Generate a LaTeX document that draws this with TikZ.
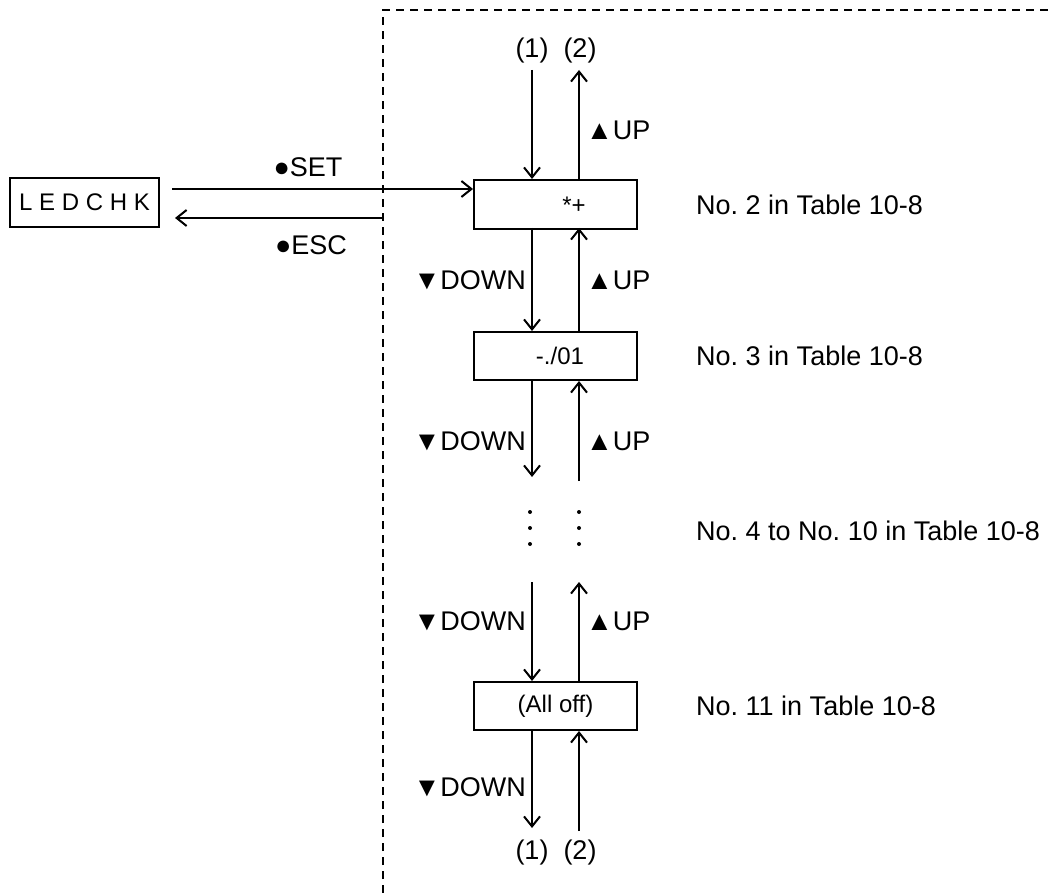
\documentclass[tikz,border=0pt]{standalone}
\usepackage{fontspec}
\setmainfont{Liberation Sans}
\usetikzlibrary{arrows.meta}
\frenchspacing
\tikzset{
  x=1pt, y=-1pt,
  lbl/.style={inner sep=0pt, font=\fontsize{27}{31}\selectfont},
  boxtxt/.style={inner sep=0pt, font=\fontsize{24}{28}\selectfont},
  statebox/.style={draw, line width=2pt, minimum width=163pt, minimum height=49pt, inner sep=0pt, anchor=north west},
  arr/.style={line width=2pt, -{Straight Barb[length=10pt,width=16pt,line width=2pt]}},
  frame/.style={line width=1.6pt, dash pattern=on 8pt off 6pt},
  dotmark/.style={fill, circle, inner sep=0pt, minimum size=4pt}
}
\begin{document}
\begin{tikzpicture}
\useasboundingbox (0,0) rectangle (1053,893);
% dashed frame
\coordinate (fb) at (383,893);
\coordinate (fc) at (383,10);
\coordinate (fr) at (1053,10);
\draw[frame] (fb) -- (fc) -- (fr);
% boxes
\node[statebox, minimum width=149pt] (led) at (9,177) {};
\node[boxtxt] (ledt) at (led.center) {L E D C H K};
\node[statebox] (b1) at (473,179) {};
\node[boxtxt] (b1t) at (574,205) {*+};
\node[statebox, minimum height=48pt] (b2) at (473,331) {};
\node[boxtxt] (b2t) at (560,356) {-./01};
\node[statebox, minimum height=48pt] (b3) at (473,681) {};
\node[boxtxt] (b3t) at (b3.center) {(All off)};
% SET / ESC
\coordinate (s0) at (172,189);
\coordinate (e0) at (383,218);
\coordinate (e1) at (175,218);
\draw[arr] (s0) -- (s0 -| b1.west);
\draw[arr] (e0) -- (e1);
\node[lbl] (set) at (308,167) {●SET};
\node[lbl] (esc) at (311,245) {●ESC};
% top (1) (2)
\node[lbl] (t1) at (532,51) {(1)};
\node[lbl] (t2) at (580,51) {(2)};
\coordinate (d0) at (532,70);
\coordinate (u0) at (579,70);
\draw[arr] (d0) -- (d0 |- b1.north);
\draw[arr] (u0 |- b1.north) -- (u0);
\node[lbl, anchor=west] (up0) at (586,130) {▲UP};
% b1 - b2
\coordinate (d1) at (532,228);
\coordinate (u1) at (579,228);
\draw[arr] (d1) -- (d1 |- b2.north);
\draw[arr] (u1 |- b2.north) -- (u1);
\node[lbl, anchor=east] (dn1) at (526,280) {▼DOWN};
\node[lbl, anchor=west] (up1) at (586,280) {▲UP};
% b2 - dots
\coordinate (d2) at (532,477);
\coordinate (u2) at (579,481);
\draw[arr] (d2 |- b2.south) -- (d2);
\draw[arr] (u2) -- (u2 |- b2.south);
\node[lbl, anchor=east] (dn2) at (526,441) {▼DOWN};
\node[lbl, anchor=west] (up2) at (586,441) {▲UP};
% dots
\node[dotmark] (p1) at (530,512) {};
\node[dotmark] (p2) at (530,528) {};
\node[dotmark] (p3) at (530,544) {};
\node[dotmark] (q1) at (579,512) {};
\node[dotmark] (q2) at (579,528) {};
\node[dotmark] (q3) at (579,544) {};
% dots - b3
\coordinate (d3) at (532,582);
\coordinate (u3) at (579,582);
\draw[arr] (d3) -- (d3 |- b3.north);
\draw[arr] (u3 |- b3.north) -- (u3);
\node[lbl, anchor=east] (dn3) at (526,621) {▼DOWN};
\node[lbl, anchor=west] (up3) at (586,621) {▲UP};
% b3 - bottom
\coordinate (d4) at (532,828);
\coordinate (u4) at (579,831);
\draw[arr] (d4 |- b3.south) -- (d4);
\draw[arr] (u4) -- (u4 |- b3.south);
\node[lbl, anchor=east] (dn4) at (526,787) {▼DOWN};
\node[lbl] (bt1) at (532,853) {(1)};
\node[lbl] (bt2) at (580,853) {(2)};
% right labels
\node[lbl, anchor=west] (r1) at (696,205) {No. 2 in Table 10-8};
\node[lbl, anchor=west] (r2) at (696,356) {No. 3 in Table 10-8};
\node[lbl, anchor=west] (r3) at (696,531) {No. 4 to No. 10 in Table 10-8};
\node[lbl, anchor=west] (r4) at (696,706) {No. 11 in Table 10-8};
\end{tikzpicture}
\end{document}
